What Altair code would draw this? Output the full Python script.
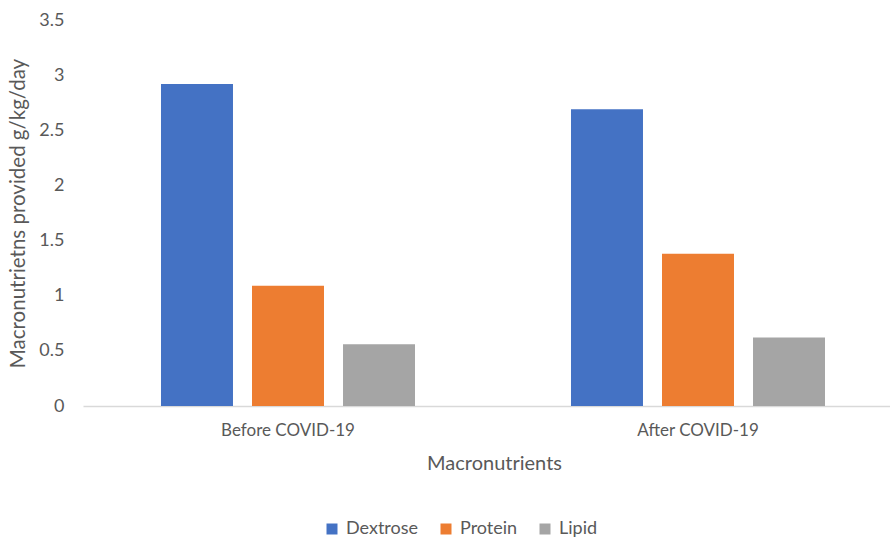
import altair as alt
import pandas as pd

periods = ["Before COVID-19", "After COVID-19"]
nutrients = ["Dextrose", "Protein", "Lipid"]
dextrose = [2.92, 2.69]
protein = [1.09, 1.38]
lipid = [0.56, 0.62]
colors = ["#4472C4", "#ED7D31", "#A5A5A5"]

rows = []
for i, p in enumerate(periods):
    for n, vals in zip(nutrients, [dextrose, protein, lipid]):
        rows.append({"period": p, "nutrient": n, "value": vals[i]})
df = pd.DataFrame(rows)

FONT = "Lato"
TXT = "#595959"

chart = alt.Chart(df).mark_bar().encode(
    x=alt.X("period:N", sort=periods,
            scale=alt.Scale(range=[0, 820], paddingInner=0, paddingOuter=0),
            axis=alt.Axis(title="Macronutrients", labelAngle=0, ticks=False,
                          domainColor="#D9D9D9", domainWidth=1.5,
                          labelFont=FONT, labelFontSize=17, labelColor=TXT,
                          labelPadding=16, titleFont=FONT, titleFontSize=20,
                          titleFontWeight="normal", titleColor=TXT,
                          titlePadding=15, titleX=411)),
    xOffset=alt.XOffset("nutrient:N", sort=nutrients,
                        scale=alt.Scale(paddingInner=0.209, paddingOuter=0.857)),
    y=alt.Y("value:Q",
            scale=alt.Scale(domain=[0, 3.5]),
            axis=alt.Axis(title="Macronutrietns provided g/kg/day", values=[0, 0.5, 1, 1.5, 2, 2.5, 3, 3.5],
                          labelExpr="datum.value", grid=False, domain=False, ticks=False,
                          labelFont=FONT, labelFontSize=18, labelColor=TXT,
                          labelPadding=19, titleFont=FONT, titleFontSize=20.5,
                          titleFontWeight="normal", titleColor=TXT, titleX=-55)),
    color=alt.Color("nutrient:N", sort=nutrients,
                    scale=alt.Scale(domain=nutrients, range=colors),
                    legend=alt.Legend(title=None, orient="none", direction="horizontal",
                                      legendX=240, legendY=500, symbolType="square",
                                      symbolSize=121, symbolStrokeWidth=0, symbolOpacity=1,
                                      labelFont=FONT, labelFontSize=18, labelColor=TXT,
                                      columnPadding=18, labelOffset=5, padding=0)),
).properties(
    width=807, height=386,
    autosize=alt.AutoSizeParams(type="none"),
    padding={"left": 83, "top": 20, "right": 0, "bottom": 133},
).configure_view(stroke=None)

chart.save("out.html", embed_options={"renderer": "svg", "actions": False})
